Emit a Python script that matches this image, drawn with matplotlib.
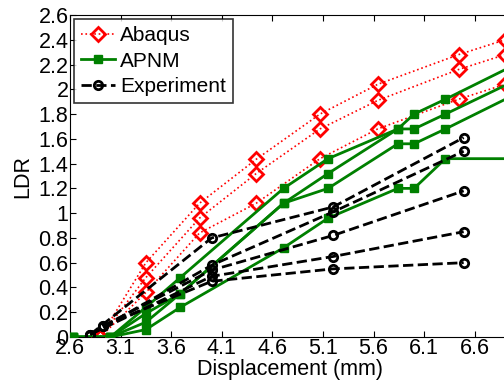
import matplotlib
matplotlib.use('Agg')
import matplotlib.pyplot as plt
import numpy as np

plt.rcParams['font.family'] = ['Liberation Sans', 'DejaVu Sans']
plt.rcParams['font.size'] = 15.5

# Abaqus (red, dotted, diamonds)
abaqus_x = [2.9, 3.35, 3.88, 4.44, 5.07, 5.64, 6.44, 6.9]
abaqus_y = [
    [0.0, 0.60, 1.08, 1.435, 1.80, 2.04, 2.28, 2.40],
    [0.0, 0.48, 0.96, 1.32, 1.68, 1.91, 2.16, 2.28],
    [0.0, 0.36, 0.84, 1.08, 1.44, 1.68, 1.92, 2.04],
]

# APNM (green, solid, squares); last point lies past the right edge
apnm_x = [2.63, 3.0, 3.35, 3.69, 4.71, 5.15, 5.84, 6.0, 6.31, 7.1]
apnm_y = [
    [0.0, 0.0, 0.24, 0.48, 1.20, 1.44, 1.68, 1.80, 1.92, 2.24],
    [0.0, 0.0, 0.19, 0.35, 1.08, 1.32, 1.68, 1.68, 1.80, 2.11],
    [0.0, 0.0, 0.12, 0.35, 1.08, 1.20, 1.56, 1.56, 1.68, 2.00],
    [0.0, 0.0, 0.06, 0.24, 0.72, 0.96, 1.20, 1.20, 1.44, 1.44],
]

# Experiment (black, dashed, circles)
exp_x = [
    [2.8, 4.0, 5.2, 6.49],
    [2.8, 4.0, 5.2, 6.49],
    [2.93, 4.0, 5.2, 6.49],
    [2.8, 4.0, 5.2, 6.49],
    [2.93, 4.0, 5.2, 6.49],
]
exp_y = [
    [0.02, 0.80, 1.05, 1.61],
    [0.02, 0.58, 1.01, 1.50],
    [0.09, 0.54, 0.82, 1.18],
    [0.02, 0.49, 0.65, 0.85],
    [0.09, 0.45, 0.55, 0.60],
]

xtick_vals = [2.6, 3.1, 3.6, 4.1, 4.6, 5.1, 5.6, 6.1, 6.6]
ytick_vals = [0, 0.2, 0.4, 0.6, 0.8, 1, 1.2, 1.4, 1.6, 1.8, 2, 2.2, 2.4, 2.6]

fig = plt.figure(figsize=(5.04, 3.88), dpi=100)
ax = fig.add_axes([70/504., 51/388., 440/504., 322/388.])

for i, ys in enumerate(abaqus_y):
    ax.plot(abaqus_x, ys, ':', color='red', linewidth=1.2, marker='D', markersize=7,
            markerfacecolor='none', markeredgecolor='red', markeredgewidth=2,
            label='Abaqus' if i == 0 else None, zorder=3)

for i, ys in enumerate(apnm_y):
    ax.plot(apnm_x, ys, '-', color='#008000', linewidth=2, marker='s', markersize=6,
            markerfacecolor='#008000', markeredgecolor='#008000',
            label='APNM' if i == 0 else None, zorder=4)

for i, (xs, ys) in enumerate(zip(exp_x, exp_y)):
    ax.plot(xs, ys, '--', color='black', linewidth=2, marker='o', markersize=6,
            markerfacecolor='none', markeredgecolor='black', markeredgewidth=2,
            label='Experiment' if i == 0 else None, zorder=5)

ax.set_xlim(2.6, 2.6 + 440 / 101.2)
ax.set_ylim(0, 2.6)
ax.set_xticks(xtick_vals)
ax.set_xticklabels(['%.1f' % v for v in xtick_vals])
ax.set_yticks(ytick_vals)
ax.set_yticklabels(['%g' % v for v in ytick_vals])
ax.tick_params(direction='in', top=True, right=True, length=4, pad=1)
ax.set_xlabel('Displacement (mm)', labelpad=0)
ax.set_ylabel('LDR', labelpad=4)

leg = ax.legend(loc='upper left', fontsize=15, frameon=True, fancybox=False,
                edgecolor='black', handlelength=1.6, borderaxespad=0.2,
                labelspacing=0.3, borderpad=0.35, handletextpad=0.25)
leg.get_frame().set_linewidth(1.2)

plt.savefig('out.png', dpi=100)
